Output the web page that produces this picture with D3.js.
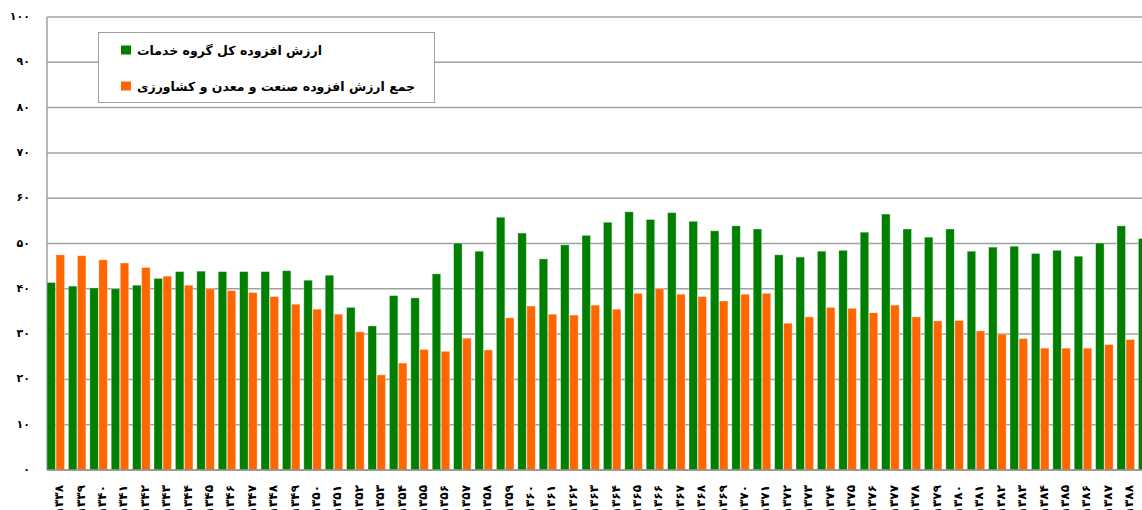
<!DOCTYPE html>
<html>
<head>
<meta charset="utf-8">
<script src="https://cdn.jsdelivr.net/npm/d3@7"></script>
<style>
  body { margin: 0; background: #fff; }
  svg { display: block; font-family: "DejaVu Sans", sans-serif; }
  .grid line { stroke: #a0a0a0; stroke-width: 1.5; }
  .lab { font-weight: bold; fill: #000; }
</style>
</head>
<body>
<div id="chart"></div>
<script>
// years 1338..1389 (solar hijri)
var years = d3.range(1338, 1390)
// share of services value added (green)
var services = [41.4,40.6,40.2,40.0,40.8,42.3,43.8,43.9,43.8,43.8,43.8,44.0,
  41.9,43.0,35.9,31.8,38.5,38.0,43.3,50.1,48.3,55.8,52.3,46.6,49.7,51.8,
  54.7,57.0,55.3,56.8,54.9,52.8,53.9,53.2,47.5,47.0,48.3,48.5,52.5,56.5,
  53.2,51.4,53.2,48.3,49.2,49.4,47.8,48.5,47.2,50.1,53.9,51.1]
// industry + mining + agriculture (orange)
var industry = [47.5,47.3,46.4,45.7,44.7,42.8,40.8,40.0,39.6,39.2,38.3,36.6,
  35.5,34.4,30.5,21.0,23.6,26.6,26.2,29.1,26.5,33.6,36.2,34.4,34.2,36.4,
  35.5,39.0,40.0,38.8,38.3,37.3,38.8,39.0,32.4,33.8,35.9,35.7,34.7,36.4,
  33.8,32.9,33.0,30.7,30.0,29.0,26.9,26.9,26.9,27.7,28.8,null]
var yTicks = d3.range(0, 101, 10)
var seriesNames = ["ارزش افزوده کل گروه خدمات", "جمع ارزش افزوده صنعت و معدن و کشاورزی"]
var colours = ["#007f00", "#ff6600"]

var W = 1142, H = 510
var plotLeft = 47, plotTop = 17, plotBottom = 470
var step = 21.4

function fa(n){ return String(n).replace(/\d/g, d => "۰۱۲۳۴۵۶۷۸۹"[d]) }

var svg = d3.select("#chart").append("svg").attr("width", W).attr("height", H)

var x = d3.scaleBand().domain(years).range([plotLeft, plotLeft + years.length*step])
  .paddingInner(0.18).paddingOuter(0.09).align(0)
var xs = d3.scaleBand().domain([0,1]).range([0, x.bandwidth()]).paddingInner(0.06)
var y = d3.scaleLinear().domain([0,100]).range([plotBottom, plotTop])

// grid
var grid = svg.append("g").attr("class","grid")
grid.selectAll("line").data(yTicks).enter().append("line")
  .attr("x1", plotLeft).attr("x2", W).attr("y1", d=>y(d)).attr("y2", d=>y(d))
grid.append("line").attr("x1", plotLeft).attr("x2", plotLeft).attr("y1", plotTop).attr("y2", plotBottom)

// bars
var rows = years.map((yr,i) => ({yr, vals:[services[i], industry[i]]}))
var groups = svg.selectAll("g.yr").data(rows).enter().append("g").classed("yr",true)
  .attr("transform", d=>"translate("+x(d.yr)+",0)")
groups.selectAll("rect").data(d=>d.vals.map((v,k)=>({v,k})).filter(e=>e.v!=null))
  .enter().append("rect")
  .attr("x", e=>xs(e.k)).attr("width", xs.bandwidth())
  .attr("y", e=>y(e.v)).attr("height", e=>plotBottom - y(e.v))
  .attr("fill", e=>colours[e.k])
  .attr("stroke", "#fff").attr("stroke-opacity", 0.45).attr("stroke-width", 0.8)

// bottom axis line on top of bars
svg.append("line").attr("x1", plotLeft).attr("x2", W).attr("y1", plotBottom).attr("y2", plotBottom)
  .attr("stroke", "#909090").attr("stroke-width", 1.5)

// y labels
svg.selectAll("text.yl").data(yTicks).enter().append("text").attr("class","lab yl")
  .attr("x", 30).attr("y", d=>y(d)).attr("text-anchor","end").attr("dominant-baseline","middle")
  .style("font-size","11px").text(d=>fa(d))

// x labels
svg.selectAll("text.xl").data(years).enter().append("text").attr("class","lab xl")
  .attr("transform", d=>"translate("+(x(d)+x.bandwidth()/2+4)+",485) rotate(-90)")
  .attr("text-anchor","end").attr("dominant-baseline","middle")
  .style("font-size","12px").text(d=>fa(d))

// legend
var lg = svg.append("g")
lg.append("rect").attr("x", 98.5).attr("y", 32.5).attr("width", 336).attr("height", 70)
  .attr("fill","#fff").attr("stroke","#a0a0a0").attr("stroke-width",1)
seriesNames.forEach((name,i) => {
  var cy = 50 + i*36
  lg.append("rect").attr("x", 121).attr("y", cy-4.5).attr("width", 10).attr("height", 9).attr("fill", colours[i])
  lg.append("text").attr("class","lab").attr("x", 137).attr("y", cy+1)
    .attr("dominant-baseline","middle").style("font-size","12.5px").text(name)
})
</script>
</body>
</html>
